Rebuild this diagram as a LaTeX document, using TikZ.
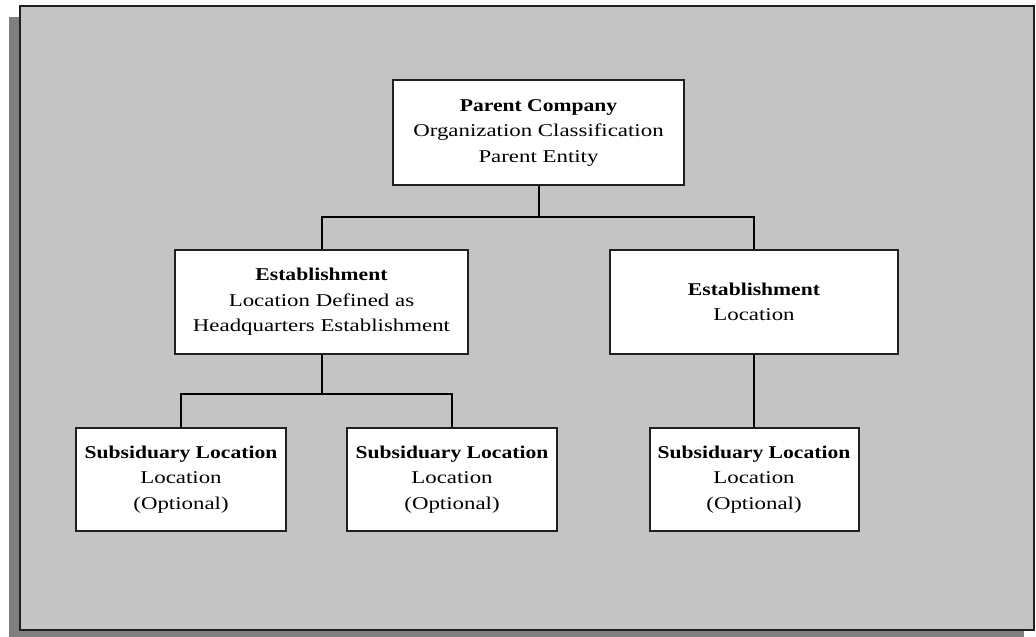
\documentclass[tikz,border=0pt]{standalone}
\usepackage{fontspec}
\setmainfont{Liberation Serif}[FakeStretch=1.27, BoldFeatures={FakeStretch=1.2}]
\definecolor{panelgray}{RGB}{196,196,196}
\definecolor{shadowgray}{RGB}{128,128,128}
\definecolor{edge}{RGB}{32,32,32}
\begin{document}
\begin{tikzpicture}[x=1pt,y=-1pt,
  box/.style={draw=edge, line width=2pt, fill=white, align=center, inner sep=0pt,
    font=\fontsize{18}{25.5}\selectfont},
  conn/.style={draw=black, line width=2pt}]
\useasboundingbox (0,0) rectangle (1036,637);
% shadow and panel
\fill[shadowgray] (9,17) rectangle (1024,637);
\draw[fill=panelgray, draw=edge, line width=2pt] (20,6) rectangle (1034,630);
% boxes
\node[box, minimum width=291pt, minimum height=105pt] (parent) at (538.5,132.5)
  {\textbf{Parent Company}\\Organization Classification\\Parent Entity};
\node[box, minimum width=293pt, minimum height=104pt] (est1) at (321.5,302)
  {\textbf{Establishment}\\Location Defined as\\Headquarters Establishment};
\node[box, minimum width=288pt, minimum height=104pt] (est2) at (754,302)
  {\textbf{Establishment}\\Location};
\node[box, minimum width=210pt, minimum height=103pt] (sub1) at (181,479.5)
  {\textbf{Subsiduary Location}\\Location\\(Optional)};
\node[box, minimum width=210pt, minimum height=103pt] (sub2) at (452,479.5)
  {\textbf{Subsiduary Location}\\Location\\(Optional)};
\node[box, minimum width=209pt, minimum height=103pt] (sub3) at (754,479.5)
  {\textbf{Subsiduary Location}\\Location\\(Optional)};
% junctions
\coordinate (j1) at (538.5,217);
\coordinate (j2) at (321.5,394);
% connectors
\draw[conn] (parent.south) -- (j1);
\draw[conn] (est1.north) |- (j1) -| (est2.north);
\draw[conn] (est1.south) -- (j2);
\draw[conn] (sub1.north) |- (j2) -| (sub2.north);
\draw[conn] (est2.south) -- (sub3.north);
\end{tikzpicture}
\end{document}
